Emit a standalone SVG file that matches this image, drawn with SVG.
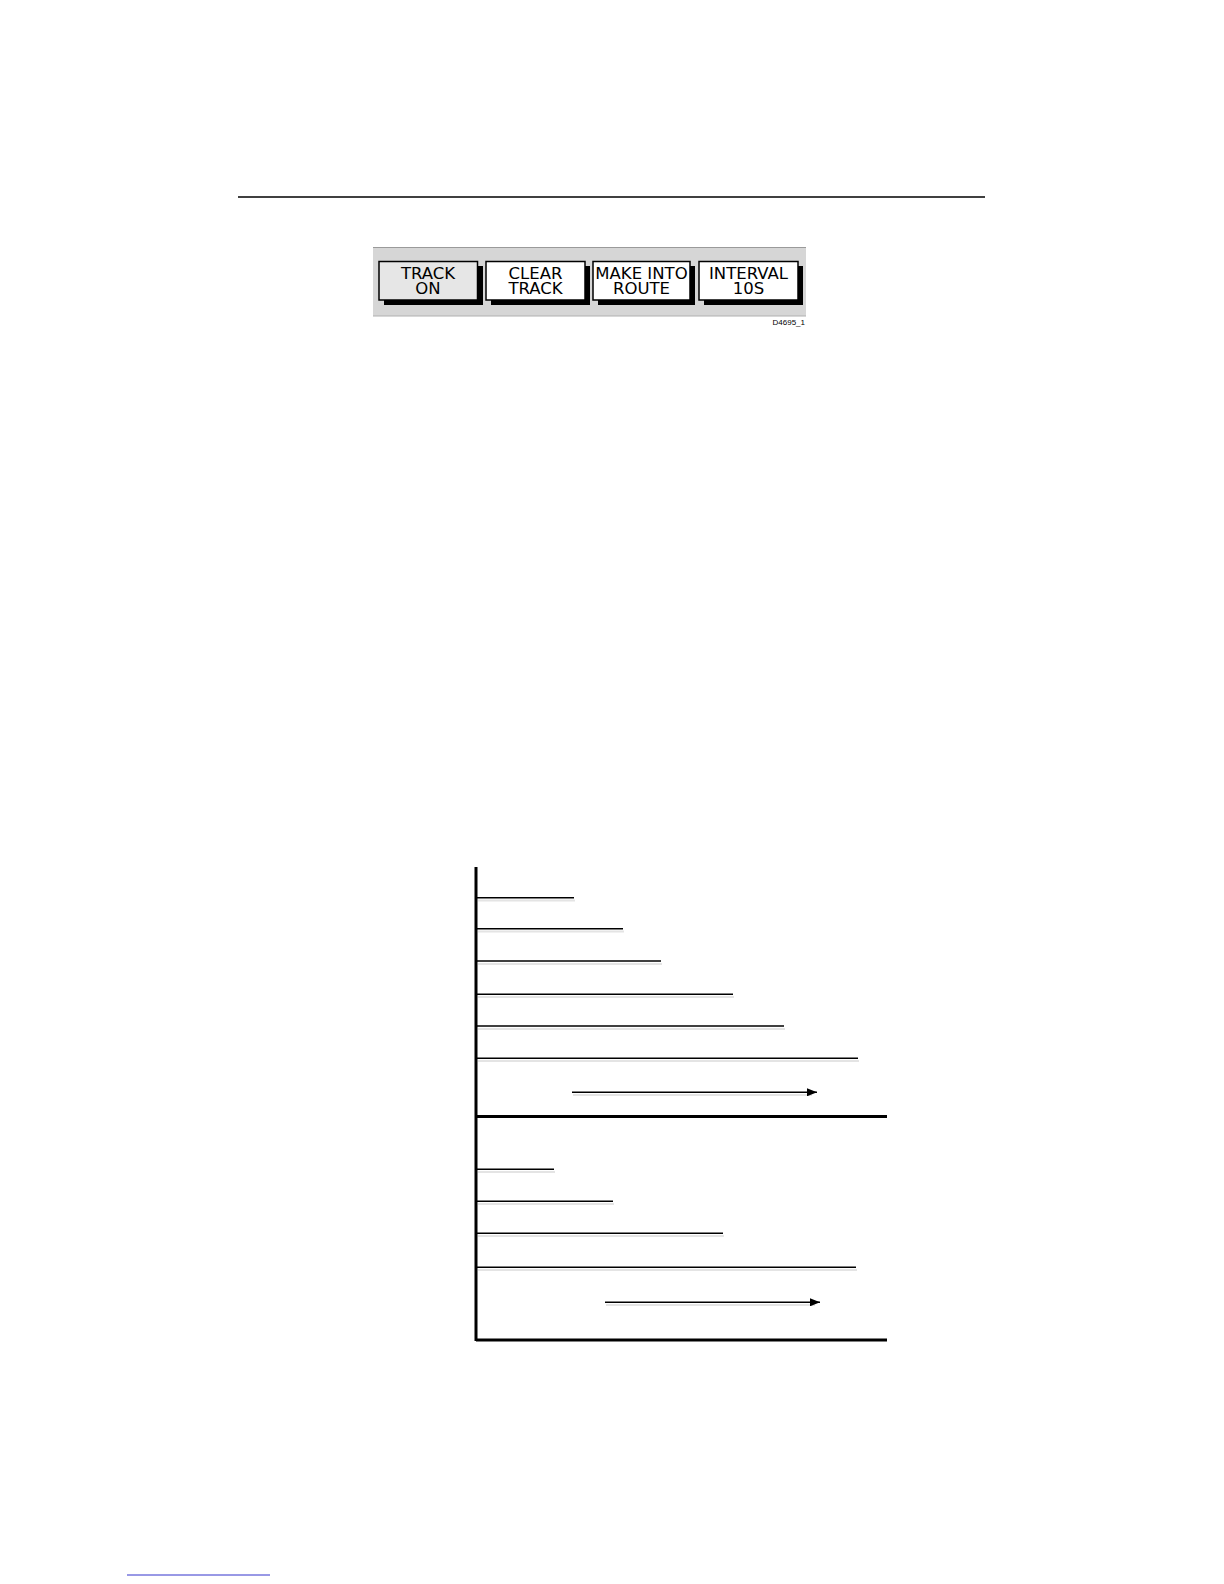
<svg xmlns="http://www.w3.org/2000/svg" width="1224" height="1584" viewBox="0 0 1224 1584">
<style>
.btn{stroke:#000;stroke-width:1.5}
.shadow{fill:#000}
.lbl{font-family:"DejaVu Sans","Liberation Sans",sans-serif;font-size:16.5px;fill:#000;text-anchor:middle}
.thin{stroke:#000;stroke-width:1.4;fill:none}
.sh{stroke:#e4e4e4;stroke-width:2;fill:none}
.thick{stroke:#000;stroke-width:3;fill:none}
</style>
<defs>
<marker id="arr" viewBox="0 0 10 8" refX="10" refY="4" markerWidth="10" markerHeight="8" markerUnits="userSpaceOnUse" orient="auto">
<path d="M0,0 L10,4 L0,8 Z" fill="#000"/>
</marker>
</defs>
<rect width="1224" height="1584" fill="#fff"/>
<line x1="238" y1="197" x2="985" y2="197" stroke="#000" stroke-width="1.5"/>
<g id="softkey-bar">
<rect x="373" y="247" width="433" height="69" fill="#d6d6d6"/>
<line x1="373" y1="247.5" x2="806" y2="247.5" stroke="#9a9a9a" stroke-width="1"/>
<line x1="373" y1="316" x2="806" y2="316" stroke="#b0b0b0" stroke-width="1"/>
</g>
<g id="btn-track-on">
<rect class="shadow" x="384" y="266" width="99" height="39"/>
<rect class="btn" x="379" y="261.5" width="98.5" height="38.5" fill="#e6e6e6"/>
<text class="lbl" x="428" y="278.5">TRACK</text>
<text class="lbl" x="428" y="294">ON</text>
</g>
<g id="btn-clear-track">
<rect class="shadow" x="491" y="266" width="99" height="39"/>
<rect class="btn" x="486" y="261.5" width="99" height="38.5" fill="#fff"/>
<text class="lbl" x="535.5" y="278.5">CLEAR</text>
<text class="lbl" x="535.5" y="294">TRACK</text>
</g>
<g id="btn-make-into-route">
<rect class="shadow" x="598" y="266" width="97" height="39"/>
<rect class="btn" x="593" y="261.5" width="97" height="38.5" fill="#fff"/>
<text class="lbl" x="641.5" y="278.5">MAKE INTO</text>
<text class="lbl" x="641.5" y="294">ROUTE</text>
</g>
<g id="btn-interval">
<rect class="shadow" x="704" y="266" width="99" height="39"/>
<rect class="btn" x="699" y="261.5" width="99" height="38.5" fill="#fff"/>
<text class="lbl" x="748.5" y="278.5">INTERVAL</text>
<text class="lbl" x="748.5" y="294">10S</text>
</g>
<text x="805" y="325" font-family="Liberation Sans, Arial, sans-serif" font-size="8" text-anchor="end" fill="#000">D4695_1</text>
<g id="chart-frame">
<line class="thick" x1="476" y1="867" x2="476" y2="1341"/>
<line class="thick" x1="476" y1="1116.5" x2="887" y2="1116.5"/>
<line class="thick" x1="476" y1="1340" x2="887" y2="1340"/>
</g>
<g id="connectors">
<line class="sh" x1="478" y1="900.5" x2="575" y2="900.5"/>
<line class="sh" x1="478" y1="931.5" x2="624" y2="931.5"/>
<line class="sh" x1="478" y1="964" x2="662" y2="964"/>
<line class="sh" x1="478" y1="997" x2="734" y2="997"/>
<line class="sh" x1="478" y1="1029" x2="785" y2="1029"/>
<line class="sh" x1="478" y1="1061" x2="859" y2="1061"/>
<line class="sh" x1="573" y1="1095" x2="812" y2="1095"/>
<line class="sh" x1="478" y1="1172" x2="555" y2="1172"/>
<line class="sh" x1="478" y1="1204" x2="614" y2="1204"/>
<line class="sh" x1="478" y1="1236" x2="724" y2="1236"/>
<line class="sh" x1="478" y1="1270" x2="857" y2="1270"/>
<line class="sh" x1="606" y1="1305" x2="815" y2="1305"/>
<line class="thin" x1="477" y1="897.7" x2="574" y2="897.7"/>
<line class="thin" x1="477" y1="928.7" x2="623" y2="928.7"/>
<line class="thin" x1="477" y1="961" x2="661" y2="961"/>
<line class="thin" x1="477" y1="994.3" x2="733" y2="994.3"/>
<line class="thin" x1="477" y1="1026" x2="784" y2="1026"/>
<line class="thin" x1="477" y1="1058.3" x2="858" y2="1058.3"/>
<line class="thin" x1="572" y1="1092.3" x2="817" y2="1092.3" marker-end="url(#arr)"/>
<line class="thin" x1="477" y1="1169.3" x2="554" y2="1169.3"/>
<line class="thin" x1="477" y1="1201.3" x2="613" y2="1201.3"/>
<line class="thin" x1="477" y1="1233.3" x2="723" y2="1233.3"/>
<line class="thin" x1="477" y1="1267.3" x2="856" y2="1267.3"/>
<line class="thin" x1="605" y1="1302.3" x2="820" y2="1302.3" marker-end="url(#arr)"/>
</g>
<line x1="127" y1="1575" x2="270" y2="1575" stroke="#3333cc" stroke-width="1"/>
</svg>
